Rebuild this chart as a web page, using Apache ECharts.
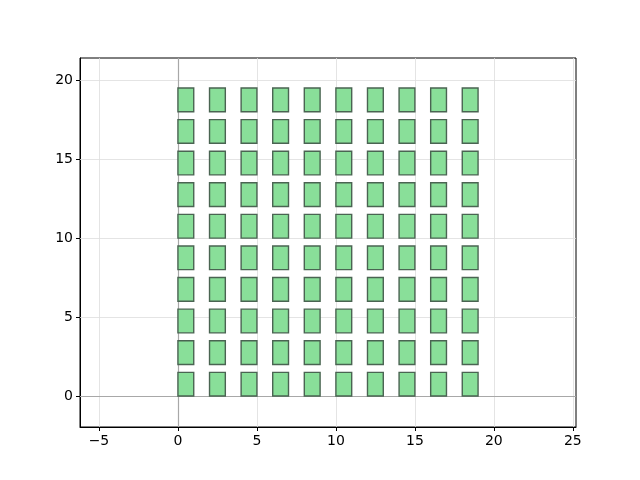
<!DOCTYPE html>
<html>
<head>
<meta charset="utf-8">
<script src="https://cdn.jsdelivr.net/npm/echarts@6/dist/echarts.min.js"></script>
<style>
  html, body { margin: 0; padding: 0; background: #fff; }
  #main { width: 640px; height: 480px; }
</style>
</head>
<body>
<div id="main"></div>
<script>
// left edges of the columns and bottom edges of the rows
var colStarts = [0, 2, 4, 6, 8, 10, 12, 14, 16, 18];
var rowStarts = [0, 2, 4, 6, 8, 10, 12, 14, 16, 18];
var boxWidth = 1;
var boxHeight = 1.5;
// tick labels
var xTicks = [-5, 0, 5, 10, 15, 20, 25];
var yTicks = [0, 5, 10, 15, 20];

// one item per box: [x, y, width, height]
var boxes = [];
colStarts.forEach(function (x) {
    rowStarts.forEach(function (y) {
        boxes.push([x, y, boxWidth, boxHeight]);
    });
});

var myChart = echarts.init(document.getElementById('main'));

var axisText = { color: '#000', fontSize: 14, fontFamily: 'DejaVu Sans', margin: 7 };

// grid lines at the tick values
var gridLines = xTicks.map(function (v) { return { xAxis: v }; })
    .concat(yTicks.map(function (v) { return { yAxis: v }; }));

myChart.setOption({
    backgroundColor: '#ffffff',
    animation: false,
    grid: {
        left: 80, right: 64, top: 58, bottom: 53,
        show: true, borderColor: '#000', borderWidth: 1, backgroundColor: 'transparent'
    },
    xAxis: {
        type: 'value',
        min: -6.2, max: 25.2,
        axisLine: { show: true, onZero: false, lineStyle: { color: '#000' } },
        axisTick: { show: true, length: 4, customValues: xTicks, lineStyle: { color: '#000' } },
        axisLabel: Object.assign({ customValues: xTicks,
            formatter: function (v) { return v < 0 ? '\u2212' + (-v) : v; } }, axisText),
        splitLine: { show: false }
    },
    yAxis: {
        type: 'value',
        min: -1.96, max: 21.4,
        axisLine: { show: true, onZero: false, lineStyle: { color: '#000' } },
        axisTick: { show: true, length: 4, customValues: yTicks, lineStyle: { color: '#000' } },
        axisLabel: Object.assign({ customValues: yTicks }, axisText),
        splitLine: { show: false }
    },
    series: [
        {
            // light grid
            type: 'line',
            data: [],
            silent: true,
            z: 1,
            markLine: {
                silent: true,
                z: 1,
                symbol: 'none',
                label: { show: false },
                lineStyle: { color: '#dddddd', width: 0.8, type: 'solid' },
                data: gridLines
            }
        },
        {
            // zero lines
            type: 'line',
            data: [],
            silent: true,
            z: 2,
            markLine: {
                silent: true,
                z: 2,
                symbol: 'none',
                label: { show: false },
                lineStyle: { color: '#a8a8a8', width: 1.2, type: 'solid' },
                data: [{ xAxis: 0 }, { yAxis: 0 }]
            }
        },
        {
            type: 'custom',
            data: boxes,
            z: 10,
            renderItem: function (params, api) {
                var p0 = api.coord([api.value(0), api.value(1) + api.value(3)]);
                var p1 = api.coord([api.value(0) + api.value(2), api.value(1)]);
                return {
                    type: 'rect',
                    shape: { x: p0[0], y: p0[1], width: p1[0] - p0[0], height: p1[1] - p0[1] },
                    style: { fill: '#89df99', stroke: '#4a6452', lineWidth: 1.4 }
                };
            }
        }
    ]
});
</script>
</body>
</html>
